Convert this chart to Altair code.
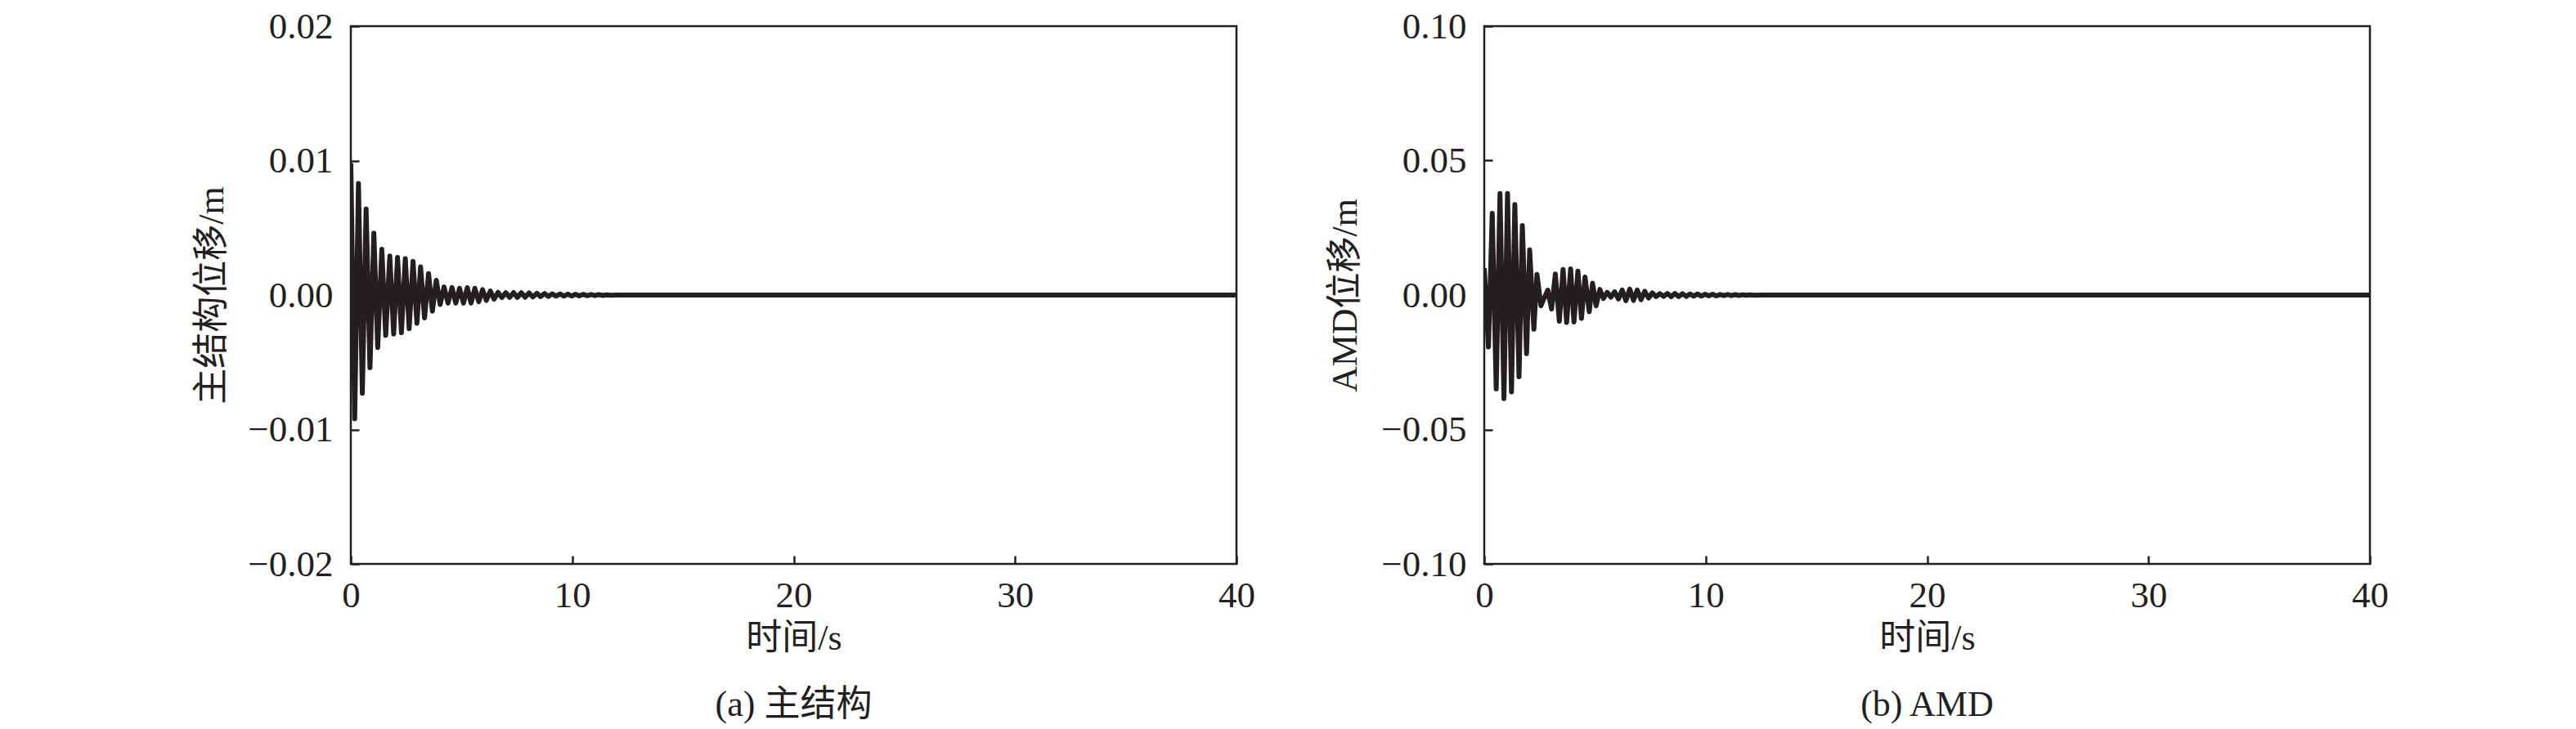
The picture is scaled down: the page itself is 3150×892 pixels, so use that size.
import altair as alt
import pandas as pd

# ---------------- data ----------------
x_ticks = [0, 10, 20, 30, 40]
y_ticks_a = [-0.02, -0.01, 0.0, 0.01, 0.02]
y_ticks_b = [-0.10, -0.05, 0.0, 0.05, 0.10]

# (a) main structure displacement: successive extrema (s, m)
time_a = [0.0, 0.175, 0.345, 0.52, 0.69, 0.865, 1.04, 1.215, 1.40, 1.575,
          1.76, 1.935, 2.11, 2.285, 2.46, 2.635, 2.81, 2.985, 3.15, 3.33,
          3.51, 3.685, 3.86, 4.035, 4.21, 4.39, 4.57, 4.74, 4.91, 5.09,
          5.26, 5.43, 5.60, 5.78, 5.95, 6.12, 6.30, 6.47, 6.65, 6.82,
          7.00, 7.17, 7.35, 7.52, 7.70, 7.87, 8.05, 8.22, 8.40, 8.57,
          8.75, 8.92, 9.10, 9.27, 9.45, 9.62, 9.80, 9.97, 10.15, 10.32,
          10.50, 10.67, 10.85, 11.02, 11.20, 11.37, 11.55, 11.72, 12.0, 40.0]
disp_a = [0.0098, -0.0092, 0.0083, -0.0073, 0.0064, -0.0054, 0.0046, -0.0039, 0.0034, -0.0030,
          0.0029, -0.0029, 0.0028, -0.0028, 0.0027, -0.0025, 0.0025, -0.0021, 0.0021, -0.0017,
          0.0016, -0.0012, 0.0011, -0.0007, 0.0006, -0.0006, 0.00056, -0.0006, 0.0005, -0.0006,
          0.00055, -0.0006, 0.0005, -0.0005, 0.0004, -0.0004, 0.0003, -0.0003, 0.0002, -0.00018,
          0.00017, -0.00018, 0.00018, -0.00018, 0.00017, -0.00016, 0.00015, -0.00014, 0.00013, -0.00012,
          0.00011, -0.0001, 0.00009, -0.00008, 0.00008, -0.00008, 0.00007, -0.00007, 0.00006, -0.00006,
          0.00005, -0.00005, 0.00004, -0.00004, 0.00003, -0.00003, 0.00002, -0.00002, 0.0, 0.0]

# (b) AMD displacement: successive extrema (s, m)
time_b = [0.0, 0.19, 0.36, 0.54, 0.71, 0.89, 1.05, 1.23, 1.38, 1.57,
          1.72, 1.91, 2.05, 2.24, 2.38, 2.56, 2.70, 2.87, 3.04, 3.21,
          3.39, 3.56, 3.72, 3.90, 4.05, 4.23, 4.39, 4.55, 4.74, 4.89,
          5.05, 5.22, 5.38, 5.55, 5.72, 5.89, 6.06, 6.23, 6.40, 6.57,
          6.74, 6.91, 7.08, 7.25, 7.42, 7.59, 7.76, 7.93, 8.10, 8.27,
          8.44, 8.61, 8.78, 8.95, 9.12, 9.29, 9.46, 9.63, 9.80, 9.97,
          10.14, 10.31, 10.48, 10.65, 10.82, 10.99, 11.16, 11.33, 11.50, 11.67,
          11.84, 12.01, 12.18, 12.5, 40.0]
disp_b = [0.0100, -0.0193, 0.0304, -0.0349, 0.0378, -0.0385, 0.0378, -0.0360, 0.0337, -0.0304,
          0.0258, -0.0218, 0.0168, -0.0127, 0.0077, -0.0040, -0.0012, 0.0018, -0.0052, 0.0078,
          -0.0097, 0.0095, -0.0102, 0.0097, -0.0100, 0.0089, -0.0087, 0.0067, -0.0062, 0.0044,
          -0.0040, 0.0021, -0.0013, 0.0010, -0.0008, 0.0012, -0.0015, 0.0019, -0.0021, 0.0022,
          -0.0020, 0.0019, -0.0017, 0.0014, -0.0011, 0.0008, -0.0006, 0.0005, -0.0005, 0.0006,
          -0.0006, 0.0006, -0.0006, 0.0005, -0.0005, 0.0004, -0.0004, 0.0004, -0.0004, 0.0003,
          -0.0003, 0.0003, -0.0003, 0.0002, -0.0002, 0.0002, -0.0002, 0.00015, -0.00015, 0.0001,
          -0.0001, 0.0001, -0.0001, 0.0, 0.0]

# ---------------- styling ----------------
FONT = "Liberation Serif, Times New Roman, Noto Sans CJK SC"
INK = "#231f20"
FS = 45


def axis_common(**kw):
    return alt.Axis(
        domain=False, grid=False, offset=-10, tickSize=10, tickWidth=2.5,
        tickColor=INK, labelFont=FONT, labelFontSize=FS, labelColor=INK,
        titleFont=FONT, titleFontSize=44, titleFontWeight="normal", titleColor=INK,
        labelFlush=False, **kw)


def panel(t, v, dom, yvals, ytitle, caption):
    df = pd.DataFrame({"t": t, "v": v})
    return alt.Chart(df).mark_line(
        color=INK, strokeWidth=6, strokeJoin="round", clip=True
    ).encode(
        x=alt.X("t:Q", scale=alt.Scale(domain=[0, 40], nice=False, zero=False),
                axis=axis_common(values=x_ticks, format="d", title="时间/s",
                                 labelPadding=16, titlePadding=8)),
        y=alt.Y("v:Q", scale=alt.Scale(domain=dom, nice=False, zero=False),
                axis=axis_common(values=yvals, format=".2f", title=ytitle,
                                 labelPadding=22, titlePadding=21)),
    ).properties(
        width=1083, height=658,
        title=alt.TitleParams(text=caption, orient="bottom", anchor="middle",
                              frame="group", font=FONT, fontSize=44,
                              fontWeight="normal", color=INK, offset=38),
    )


pa = panel(time_a, disp_a, [-0.02, 0.02], y_ticks_a, "主结构位移/m", "(a) 主结构")
pb = panel(time_b, disp_b, [-0.10, 0.10], y_ticks_b, "AMD位移/m", "(b) AMD")

chart = alt.hconcat(pa, pb, spacing=86).properties(
    padding={"left": 228, "top": 0, "right": 5, "bottom": 0}
).configure_view(stroke=INK, strokeWidth=2.5)

chart.save("out.html", embed_options={"renderer": "svg", "actions": False})
